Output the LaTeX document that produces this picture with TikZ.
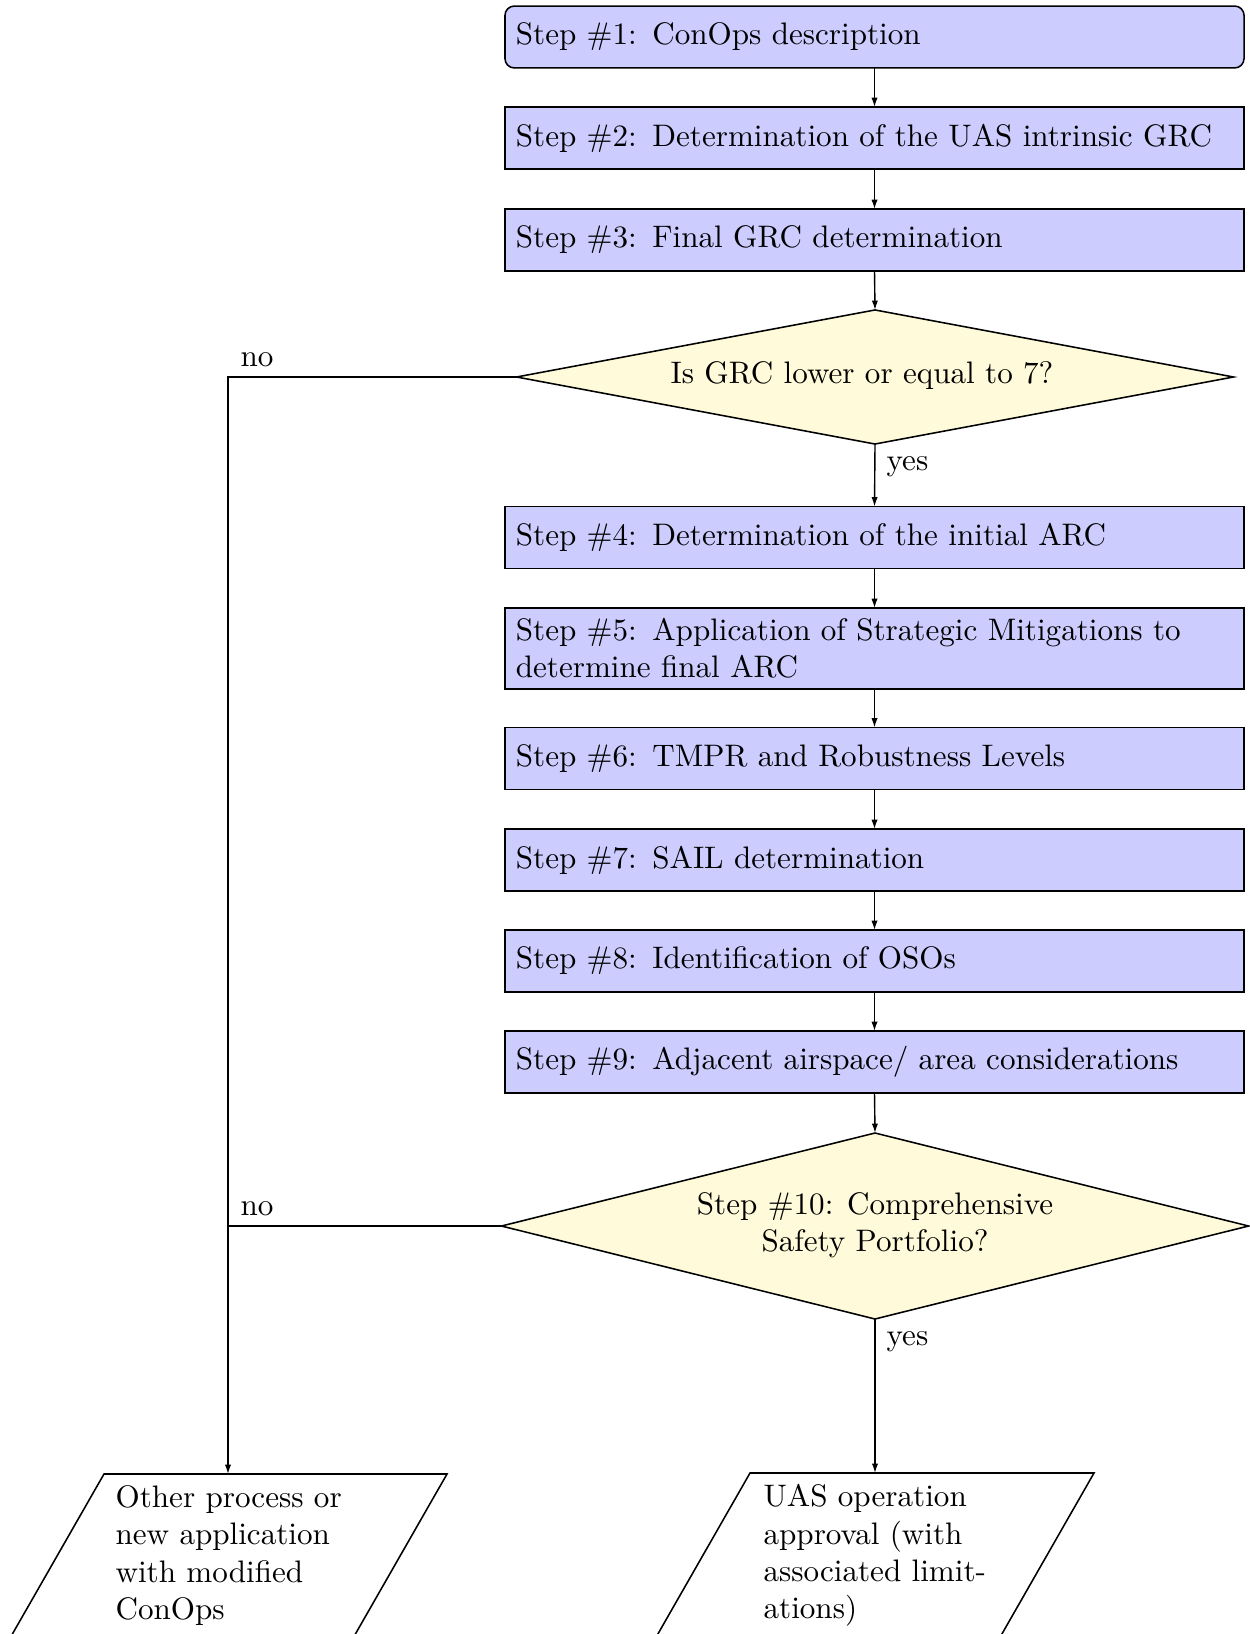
\documentclass[tikz,border=0pt]{standalone}
\usetikzlibrary{shapes.geometric,arrows.meta}
\definecolor{stepfill}{RGB}{204,204,255}
\definecolor{decfill}{RGB}{255,251,218}
\begin{document}
\begin{tikzpicture}[x=0.3215pt,y=-0.3215pt,
  stepbox/.style={draw=black, fill=stepfill, line width=0.5pt, minimum width=237.6pt,
    minimum height=19.9pt, text width=230.6pt, inner xsep=3.5pt, inner ysep=0pt,
    align=left, outer sep=0pt},
  decbox/.style={draw=black, fill=decfill, shape=diamond, inner sep=0pt, outer sep=0pt,
    line width=0.5pt},
  arr/.style={-{Latex[length=3pt,width=2pt]}, line width=0.45pt},
  conn/.style={line width=0.45pt},
  lbl/.style={anchor=base west, inner sep=0pt},
  paratext/.style={anchor=north west, inner sep=0pt, align=left}]
\useasboundingbox (0,0) rectangle (1249,1634);

\node[stepbox, rounded corners=3pt] (s1) at (874.5,37) {Step \#1: ConOps description};
\node[stepbox] (s2) at (874.5,138) {Step \#2: Determination of the UAS intrinsic GRC};
\node[stepbox] (s3) at (874.5,240) {Step \#3: Final GRC determination};
\node[decbox, minimum width=230.5pt, minimum height=43.1pt] (d1) at (875,377) {};
\node[inner sep=0pt] (d1t) at (862,376) {Is GRC lower or equal to 7?};
\node[stepbox] (s4) at (874.5,537.5) {Step \#4: Determination of the initial ARC};
\node[stepbox, minimum height=26pt] (s5) at (874.5,648.5) {Step \#5: Application of Strategic Mitigations to\\determine final ARC};
\node[stepbox] (s6) at (874.5,758.5) {Step \#6: TMPR and Robustness Levels};
\node[stepbox] (s7) at (874.5,860) {Step \#7: SAIL determination};
\node[stepbox] (s8) at (874.5,961) {Step \#8: Identification of OSOs};
\node[stepbox] (s9) at (874.5,1062) {Step \#9: Adjacent airspace/ area considerations};
\node[decbox, minimum width=240.2pt, minimum height=59.8pt] (d2) at (875,1226) {};
\node[inner sep=0pt, align=center] (d2t) at (875,1225) {Step \#10: Comprehensive\\Safety Portfolio?};

% parallelograms
\draw[line width=0.5pt] (104,1474) -- (447,1474) -- (340.5,1660) -- (-2.5,1660) -- cycle;
\draw[line width=0.5pt] (750,1473) -- (1094,1473) -- (987,1660) -- (643,1660) -- cycle;
\node[paratext] (p1) at (115,1485) {Other process or\\new application\\with modified\\ConOps};
\node[paratext] (p2) at (763,1484) {UAS operation\\approval (with\\associated limit-\\ations)};
\coordinate (p1top) at (228,1474);
\coordinate (p2top) at (875,1473);

% connectors
\draw[arr] (s1.south) -- (s2.north);
\draw[arr] (s2.south) -- (s3.north);
\draw[arr] (s3.south) -- (d1.north);
\draw[arr] (d1.south) -- (s4.north);
\draw[arr] (s4.south) -- (s5.north);
\draw[arr] (s5.south) -- (s6.north);
\draw[arr] (s6.south) -- (s7.north);
\draw[arr] (s7.south) -- (s8.north);
\draw[arr] (s8.south) -- (s9.north);
\draw[arr] (s9.south) -- (d2.north);
\draw[arr] (d2.south) -- (p2top);
\draw[arr] (d1.west) -| (p1top);
\draw[conn] (d2.west) -- (d2.west -| p1top);

% labels
\node[lbl] (no1) at (240,367) {no};
\node[lbl] (yes1) at (886,470) {yes};
\node[lbl] (no2) at (240,1215) {no};
\node[lbl] (yes2) at (886,1345) {yes};
\end{tikzpicture}
\end{document}
